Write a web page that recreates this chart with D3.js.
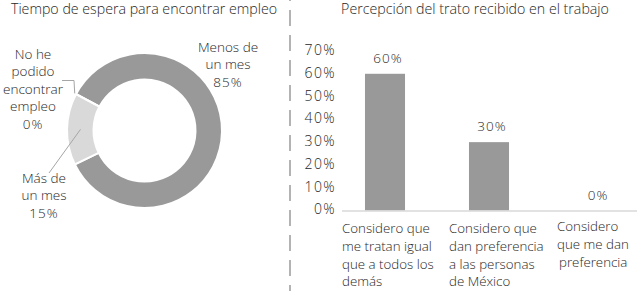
<!DOCTYPE html>
<html>
<head>
<meta charset="utf-8">
<script src="https://cdn.jsdelivr.net/npm/d3@7"></script>
<style>
  body { margin: 0; background: #fff; }
  text { font-family: "Open Sans", sans-serif; font-weight: 300; fill: #262626; }
</style>
</head>
<body>
<div id="chart"></div>
<script>
// donut data
const donutLabels = [["Menos de", "un mes", "85%"], ["Más de", "un mes", "15%"], ["No he", "podido", "encontrar", "empleo", "0%"]];
const donutValues = [85, 15, 0];
const donutColors = ["#999999", "#d9d9d9", "#999999"];

// bar data
const barCategories = [
  ["Considero que", "me tratan igual", "que a todos los", "demás"],
  ["Considero que", "dan preferencia", "a las personas", "de México"],
  ["Considero", "que me dan", "preferencia"]
];
const barValues = [0.60, 0.30, 0.00];
const yTicks = [0, 0.1, 0.2, 0.3, 0.4, 0.5, 0.6, 0.7];

const width = 641, height = 291;
const fs = "13.5px";

const svg = d3.select("#chart")
  .append("svg")
  .attr("width", width)
  .attr("height", height);

// titles
svg.append("text").attr("x", 144).attr("y", 14).attr("text-anchor", "middle")
  .style("font-size", "14.2px").text("Tiempo de espera para encontrar empleo");
svg.append("text").attr("x", 475).attr("y", 14).attr("text-anchor", "middle")
  .style("font-size", "14.2px").text("Percepción del trato recibido en el trabajo");

// dashed divider
svg.append("line")
  .attr("x1", 290).attr("x2", 290).attr("y1", -15).attr("y2", height)
  .attr("stroke", "#b3b3b3").attr("stroke-width", 2)
  .attr("stroke-dasharray", "16,9");

// donut
const cx = 144.5, cy = 130.5;
const pie = d3.pie().sort(null).value(d => d)
  .startAngle(298 * Math.PI / 180).endAngle(298 * Math.PI / 180 + 2 * Math.PI);
const arc = d3.arc().innerRadius(51).outerRadius(77.5);
const arcs = pie(donutValues);

const donut = svg.append("g").attr("transform", `translate(${cx}, ${cy})`);
donut.selectAll("path")
  .data(arcs)
  .join("path")
  .attr("d", arc)
  .attr("fill", (d, i) => donutColors[i])
  .attr("stroke", "#fff")
  .attr("stroke-width", 2);

// label positions for the donut (text block centre x, first line y)
const donutLabelPos = [[228, 52], [44, 183], [33, 59]];
const lineH = 17.4;
donutLabels.forEach((lines, i) => {
  const t = svg.append("text")
    .attr("text-anchor", "middle")
    .style("font-size", fs);
  lines.forEach((s, j) => {
    t.append("tspan")
      .attr("x", donutLabelPos[i][0])
      .attr("y", donutLabelPos[i][1] + j * lineH)
      .style("letter-spacing", s.includes("%") ? "1px" : null)
      .text(s);
  });
});

// leader lines
const arcMid = a => {
  const ang = (a.startAngle + a.endAngle) / 2;
  return [cx + Math.sin(ang) * 64, cy - Math.cos(ang) * 64];
};
const masMid = arcMid(arcs[1]);
svg.append("polyline")
  .attr("points", [[49, 173], masMid].map(p => p.join(",")).join(" "))
  .attr("fill", "none").attr("stroke", "#a6a6a6").attr("stroke-width", 1);
const noHe = [cx + Math.sin(arcs[2].startAngle) * 79, cy - Math.cos(arcs[2].startAngle) * 79];
svg.append("polyline")
  .attr("points", [[62, 80.5], [74, 80.5], noHe].map(p => p.join(",")).join(" "))
  .attr("fill", "none").attr("stroke", "#a6a6a6").attr("stroke-width", 1);

// bar chart
const y = d3.scaleLinear().domain([0, 0.7]).range([210.5, 51]);
const x = d3.scaleBand()
  .domain(d3.range(barValues.length))
  .range([333, 645])
  .paddingInner(0.615)
  .paddingOuter(0.3075);

const yAxis = svg.append("g")
  .attr("transform", "translate(336, -1)")
  .call(d3.axisLeft(y).tickValues(yTicks).tickFormat(d3.format(".0%")).tickSize(0).tickPadding(0));
yAxis.select(".domain").remove();
yAxis.selectAll("text")
  .style("font-size", "14px")
  .style("letter-spacing", "1.4px")
  .attr("fill", "#262626");

svg.selectAll("rect.bar")
  .data(barValues)
  .join("rect")
  .attr("class", "bar")
  .attr("x", (d, i) => x(i))
  .attr("y", d => y(d))
  .attr("width", x.bandwidth())
  .attr("height", d => y(0) - y(d))
  .attr("fill", "#999999");

svg.append("line")
  .attr("x1", 342).attr("x2", 637)
  .attr("y1", y(0) + 0.5).attr("y2", y(0) + 0.5)
  .attr("stroke", "#d9d9d9").attr("stroke-width", 1.5);

svg.selectAll("text.val")
  .data(barValues)
  .join("text")
  .attr("class", "val")
  .attr("x", (d, i) => x(i) + x.bandwidth() / 2 + (d === 0 ? 5 : 3))
  .attr("y", d => y(d) - 11)
  .attr("text-anchor", "middle")
  .style("font-size", fs)
  .style("letter-spacing", "1px")
  .text(d => d3.format(".0%")(d));

const catX = [342, 449, 557];
const catY = [233, 233, 231];
barCategories.forEach((lines, i) => {
  const t = svg.append("text").style("font-size", "13.3px");
  lines.forEach((s, j) => {
    t.append("tspan")
      .attr("x", catX[i] + (i === 2 && j === 2 ? 2 : 0))
      .attr("y", catY[i] + j * 17.8)
      .text(s);
  });
});
</script>
</body>
</html>
